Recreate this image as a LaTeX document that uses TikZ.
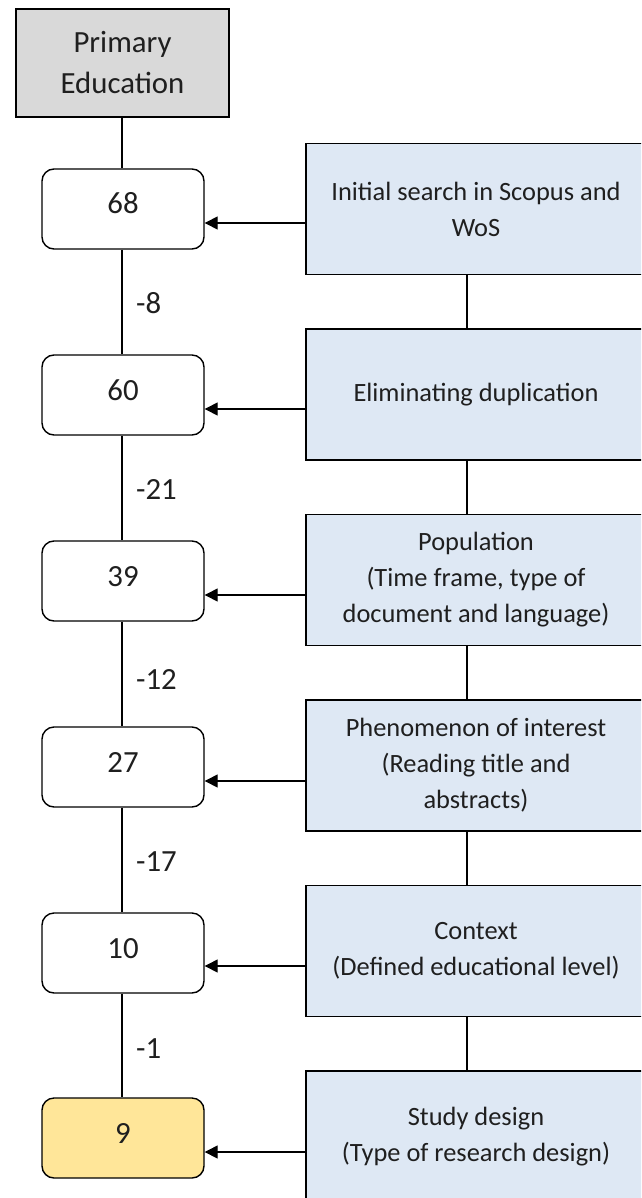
\documentclass[tikz,border=0pt]{standalone}
\usepackage{fontspec}
\setmainfont{Carlito}
\usetikzlibrary{arrows.meta}
\definecolor{topgray}{HTML}{D9D9D9}
\definecolor{stepblue}{HTML}{DEE8F4}
\definecolor{finalyellow}{HTML}{FFE699}
\definecolor{txt}{HTML}{1F1F1F}
\tikzset{
  x=1pt, y=-1pt,
  line/.style={draw=black, line width=1.4pt},
  bigfont/.style={font=\fontsize{30.8}{41}\selectfont, text=txt},
  smallfont/.style={font=\fontsize{26.4}{36}\selectfont, text=txt},
  topbox/.style={line, fill=topgray, minimum width=213pt, minimum height=108pt, inner sep=0pt, align=center, bigfont},
  countbox/.style={line, fill=white, rounded corners=12pt, minimum width=162pt, minimum height=80pt, inner sep=0pt, text height=20pt, text depth=10pt, bigfont},
  finalbox/.style={countbox, fill=finalyellow},
  stagebox/.style={line, fill=stepblue, minimum width=340pt, minimum height=131pt, inner sep=0pt, align=center, smallfont},
  difflabel/.style={anchor=west, inner sep=0pt, bigfont},
  arr/.style={line, -{Triangle[length=13pt,width=13pt]}},
}
\begin{document}
\begin{tikzpicture}
\useasboundingbox (0,0) rectangle (641,1198);
\begin{scope}
\clip (0,0) rectangle (641,1198);
% top box
\node[topbox] (top) at (122.5,63) {Primary\\Education};
% count boxes
\node[countbox] (n1) at (123,209) {68};
\node[countbox] (n2) at (123,395) {60};
\node[countbox] (n3) at (123,581) {39};
\node[countbox] (n4) at (123,767) {27};
\node[countbox] (n5) at (123,953) {10};
\node[finalbox] (n6) at (123,1138) {9};
% stage boxes
\node[stagebox] (r1) at (476,209) {Initial search in Scopus and\\WoS};
\node[stagebox] (r2) at (476,394.5) {Eliminating duplication};
\node[stagebox] (r3) at (476,580) {Population\\(Time frame, type of\\document and language)};
\node[stagebox] (r4) at (476,765.5) {Phenomenon of interest\\(Reading title and\\abstracts)};
\node[stagebox] (r5) at (476,951) {Context\\(Defined educational level)};
\node[stagebox] (r6) at (476,1136.5) {Study design\\(Type of research design)};
% left spine
\draw[line] ([xshift=-0.5pt]top.south) -- ([xshift=-1pt]n1.north);
\draw[line] ([xshift=-1pt]n1.south) -- ([xshift=-1pt]n2.north);
\draw[line] ([xshift=-1pt]n2.south) -- ([xshift=-1pt]n3.north);
\draw[line] ([xshift=-1pt]n3.south) -- ([xshift=-1pt]n4.north);
\draw[line] ([xshift=-1pt]n4.south) -- ([xshift=-1pt]n5.north);
\draw[line] ([xshift=-1pt]n5.south) -- ([xshift=-1pt]n6.north);
% right spine
\draw[line] ([xshift=-9pt]r1.south) -- ([xshift=-9pt]r2.north);
\draw[line] ([xshift=-9pt]r2.south) -- ([xshift=-9pt]r3.north);
\draw[line] ([xshift=-9pt]r3.south) -- ([xshift=-9pt]r4.north);
\draw[line] ([xshift=-9pt]r4.south) -- ([xshift=-9pt]r5.north);
\draw[line] ([xshift=-9pt]r5.south) -- ([xshift=-9pt]r6.north);
% arrows
\draw[arr] (r1.west |- 0,223) -- (n1.east |- 0,223);
\draw[arr] (r2.west |- 0,409) -- (n2.east |- 0,409);
\draw[arr] (r3.west |- 0,595) -- (n3.east |- 0,595);
\draw[arr] (r4.west |- 0,781) -- (n4.east |- 0,781);
\draw[arr] (r5.west |- 0,966) -- (n5.east |- 0,966);
\draw[arr] (r6.west |- 0,1152) -- (n6.east |- 0,1152);
% difference labels
\node[difflabel] (d1) at (136,303) {-8};
\node[difflabel] (d2) at (136,490) {-21};
\node[difflabel] (d3) at (136,679) {-12};
\node[difflabel] (d4) at (136,862) {-17};
\node[difflabel] (d5) at (136,1049) {-1};
\end{scope}
\end{tikzpicture}
\end{document}
